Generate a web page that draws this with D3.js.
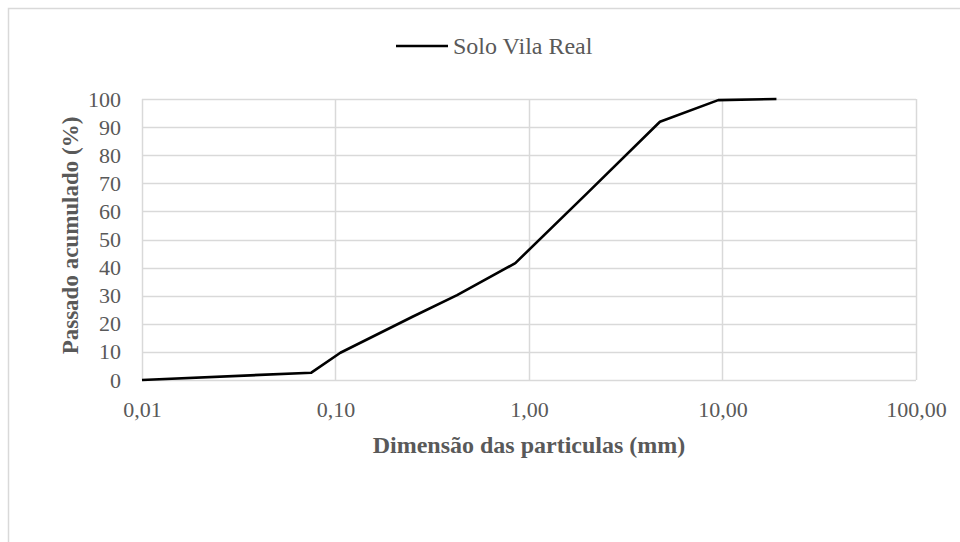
<!DOCTYPE html>
<html>
<head>
<meta charset="utf-8">
<script src="https://cdn.jsdelivr.net/npm/d3@7"></script>
<style>
  html, body { margin: 0; padding: 0; background: #fff; }
  svg { display: block; font-family: "Liberation Serif", "Times New Roman", serif; }
</style>
</head>
<body>
<div id="chart"></div>
<script>
/* ============================
   DATA
============================ */
const seriesName = "Solo Vila Real";
const sizesMm = [0.01, 0.075, 0.106, 0.25, 0.425, 0.85, 2.0, 4.75, 9.5, 19];
const passingPct = [0, 2.6, 9.7, 22.5, 30.2, 41.6, 66.5, 91.9, 99.6, 100];

const xTicks = [0.01, 0.1, 1, 10, 100];
const xTickLabels = ["0,01", "0,10", "1,00", "10,00", "100,00"];
const yTicks = [0, 10, 20, 30, 40, 50, 60, 70, 80, 90, 100];

const xTitle = "Dimensão das particulas (mm)";
const yTitle = "Passado acumulado (%)";

/* ============================
   LAYOUT
============================ */
const W = 960, H = 542;
const plot = { left: 142, right: 916, top: 99, bottom: 380 };
const TEXT = "#595959";
const GRID = "#d9d9d9";
const SERIF = "'Liberation Serif', 'Times New Roman', serif";

const svg = d3.select("#chart").append("svg")
  .attr("width", W)
  .attr("height", H);

// moldura do gráfico (cortada à direita/abaixo)
svg.append("rect")
  .attr("x", 8.5).attr("y", 8.5)
  .attr("width", W + 10).attr("height", H + 10)
  .attr("fill", "none")
  .attr("stroke", GRID)
  .attr("stroke-width", 1.5);

const x = d3.scaleLog().domain([0.01, 100]).range([plot.left, plot.right]);
const y = d3.scaleLinear().domain([0, 100]).range([plot.bottom, plot.top]);

/* grelha */
svg.append("g")
  .selectAll("line")
  .data(yTicks)
  .join("line")
  .attr("x1", plot.left).attr("x2", plot.right)
  .attr("y1", d => Math.round(y(d)) + 0.5)
  .attr("y2", d => Math.round(y(d)) + 0.5)
  .attr("stroke", GRID)
  .attr("stroke-width", 1.5);

svg.append("g")
  .selectAll("line")
  .data(xTicks)
  .join("line")
  .attr("x1", d => Math.round(x(d)) + 0.5)
  .attr("x2", d => Math.round(x(d)) + 0.5)
  .attr("y1", plot.top).attr("y2", plot.bottom)
  .attr("stroke", GRID)
  .attr("stroke-width", 1.5);

/* eixos (só rótulos) */
const styleTicks = g => {
  g.select(".domain").remove();
  g.attr("font-family", SERIF).attr("font-size", 22);
  g.selectAll("text").attr("fill", TEXT);
};

const yAxis = d3.axisLeft(y).tickValues(yTicks).tickSize(0).tickPadding(0);
svg.append("g")
  .attr("transform", `translate(${plot.left - 21},0)`)
  .call(yAxis)
  .call(styleTicks);

const xAxis = d3.axisBottom(x)
  .tickValues(xTicks)
  .tickFormat((d, i) => xTickLabels[i])
  .tickSize(0)
  .tickPadding(0);
svg.append("g")
  .attr("transform", `translate(0,${plot.bottom + 21})`)
  .call(xAxis)
  .call(styleTicks);

/* títulos */
svg.append("text")
  .attr("x", (plot.left + plot.right) / 2)
  .attr("y", 453)
  .attr("text-anchor", "middle")
  .attr("font-weight", "bold")
  .attr("font-size", 24)
  .attr("fill", TEXT)
  .text(xTitle);

svg.append("text")
  .attr("transform", `translate(78,${(plot.top + plot.bottom) / 2 - 4}) rotate(-90)`)
  .attr("text-anchor", "middle")
  .attr("font-weight", "bold")
  .attr("font-size", 23)
  .attr("fill", TEXT)
  .text(yTitle);

/* linha */
const pts = sizesMm.map((s, i) => ({ s, p: passingPct[i] }));
const line = d3.line().x(d => x(d.s)).y(d => y(d.p));

svg.append("path")
  .datum(pts)
  .attr("d", line)
  .attr("fill", "none")
  .attr("stroke", "#000")
  .attr("stroke-width", 2.6)
  .attr("stroke-linejoin", "round");

/* legenda */
const leg = svg.append("g").attr("transform", "translate(396,46)");
leg.append("line")
  .attr("x1", 0).attr("x2", 52)
  .attr("y1", 0).attr("y2", 0)
  .attr("stroke", "#000")
  .attr("stroke-width", 2.6);
leg.append("text")
  .attr("x", 57)
  .attr("y", 0)
  .attr("dy", "0.35em")
  .attr("font-size", 24)
  .attr("fill", TEXT)
  .text(seriesName);
</script>
</body>
</html>
